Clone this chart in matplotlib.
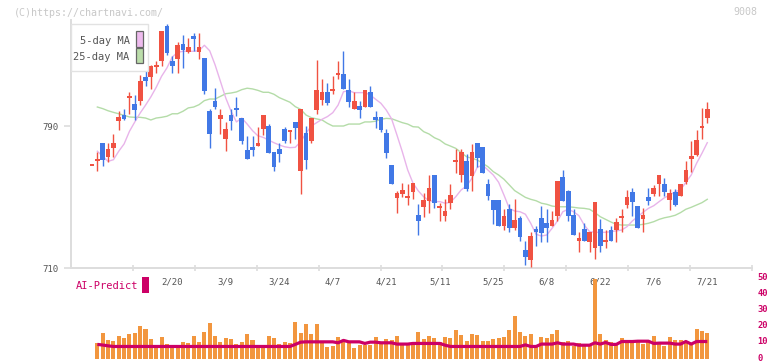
import numpy as np
import matplotlib
matplotlib.use("Agg")
import matplotlib.pyplot as plt
import matplotlib.transforms as mtransforms
from matplotlib.patches import Rectangle

# ---------------- data ----------------
opens = [768.0, 771.0, 780.4, 772.5, 777.6, 793.0, 796.2, 806.2, 802.4, 803.9,
         817.4, 817.6, 823.1, 826.8, 846.2, 826.8, 827.9, 836.2, 831.7, 840.5,
         831.7, 828.3, 798.6, 803.9, 794.1, 782.9, 796.2, 800.2, 794.5, 776.3,
         778.2, 779.0, 788.2, 790.0, 775.2, 777.1, 788.2, 787.2, 792.3, 764.8,
         785.9, 781.6, 799.0, 804.7, 809.0, 810.3, 819.3, 819.3, 810.3, 799.6,
         801.3, 800.9, 809.0, 794.9, 794.9, 786.2, 768.0, 749.6, 751.7, 750.0,
         753.0, 739.9, 744.5, 747.8, 762.4, 744.5, 739.3, 746.5, 770.3, 762.4,
         770.3, 762.0, 780.3, 778.2, 757.3, 748.3, 748.3, 733.8, 743.2, 732.7,
         738.0, 720.2, 714.5, 732.0, 738.0, 735.5, 733.8, 739.5, 761.4, 753.4,
         739.9, 725.4, 732.0, 724.8, 721.4, 732.0, 724.8, 731.4, 731.4, 738.9,
         745.5, 753.0, 744.9, 737.6, 749.8, 751.7, 757.3, 757.3, 748.3, 753.0,
         750.7, 758.6, 771.3, 773.7, 789.1, 794.7]
highs = [768.0, 775.4, 780.4, 780.4, 785.5, 798.3, 799.6, 809.2, 807.3, 818.9,
         821.4, 824.5, 826.6, 843.4, 847.5, 829.6, 837.2, 841.5, 839.6, 842.4,
         842.4, 828.3, 799.8, 811.4, 799.8, 792.3, 799.6, 806.3, 794.5, 784.2,
         784.2, 789.4, 796.2, 791.1, 775.2, 780.3, 789.3, 787.2, 792.3, 799.6,
         790.0, 794.7, 827.2, 816.5, 814.4, 818.2, 826.6, 832.3, 816.5, 809.3,
         804.1, 810.3, 812.5, 798.5, 794.9, 788.2, 768.0, 753.6, 757.7, 757.3,
         757.7, 746.1, 752.1, 762.4, 762.4, 746.5, 748.7, 757.3, 776.9, 776.9,
         774.2, 779.7, 780.3, 778.2, 760.2, 748.3, 748.3, 743.2, 746.1, 748.7,
         739.3, 725.4, 730.5, 733.8, 744.9, 743.1, 742.1, 759.0, 765.2, 754.0,
         743.2, 730.5, 735.2, 730.5, 747.0, 737.4, 731.4, 733.8, 738.0, 743.2,
         754.0, 755.3, 744.9, 744.0, 754.9, 756.8, 762.4, 760.7, 754.4, 754.4,
         757.3, 770.5, 781.7, 787.8, 800.0, 803.7]
lows = [768.0, 764.8, 767.6, 770.0, 772.8, 787.9, 793.5, 796.8, 793.2, 802.0,
        812.4, 811.0, 819.9, 824.0, 830.2, 819.9, 819.9, 822.7, 831.1, 832.1,
        827.9, 808.0, 777.6, 799.8, 785.5, 776.1, 787.9, 795.5, 779.9, 771.6,
        772.9, 778.6, 784.9, 775.0, 764.8, 769.9, 780.3, 780.3, 782.7, 751.7,
        765.8, 780.3, 796.8, 801.8, 801.8, 808.0, 816.5, 810.9, 800.9, 799.6,
        794.7, 800.9, 800.9, 789.1, 786.5, 771.8, 757.3, 740.8, 749.8, 745.5,
        748.7, 728.6, 738.9, 740.8, 744.0, 736.7, 736.7, 743.1, 763.7, 758.6,
        753.6, 753.6, 767.1, 763.7, 748.3, 734.6, 733.8, 731.4, 730.5, 731.4,
        725.4, 711.7, 710.7, 722.6, 724.8, 724.8, 733.8, 736.7, 747.8, 736.7,
        728.6, 718.9, 725.4, 718.9, 714.9, 718.9, 721.1, 725.4, 724.8, 730.5,
        744.0, 739.5, 732.7, 730.5, 745.5, 750.7, 750.7, 750.7, 742.7, 745.1,
        750.7, 757.2, 764.3, 773.1, 782.5, 791.9]
closes = [768.0, 771.0, 771.0, 777.1, 780.4, 794.9, 794.1, 806.2, 799.2, 815.2,
          815.2, 824.0, 824.4, 843.4, 831.1, 824.0, 835.5, 833.0, 834.5, 839.2,
          834.5, 809.9, 785.5, 800.5, 796.4, 788.3, 793.0, 799.0, 781.7, 771.6,
          776.7, 780.4, 796.2, 775.0, 767.1, 774.1, 781.7, 787.2, 789.1, 799.6,
          770.9, 794.7, 810.3, 809.0, 803.1, 810.3, 819.3, 810.9, 803.7, 804.1,
          799.0, 810.3, 800.9, 793.4, 787.8, 775.0, 757.3, 752.1, 754.0, 750.0,
          757.7, 736.5, 748.3, 754.9, 746.8, 744.5, 742.1, 751.1, 770.3, 775.2,
          754.5, 775.2, 771.8, 763.7, 750.7, 742.7, 733.8, 739.3, 732.7, 737.1,
          727.6, 716.4, 728.0, 730.5, 729.9, 732.7, 737.1, 759.0, 747.8, 739.5,
          728.6, 726.7, 725.4, 730.5, 747.0, 722.6, 725.8, 725.4, 735.8, 738.9,
          749.8, 747.0, 732.7, 739.9, 747.9, 754.9, 762.4, 753.0, 752.4, 745.5,
          757.3, 765.2, 773.1, 782.1, 790.0, 799.6]

nan = float("nan")
ma5 = [nan, 775.8, 772.9, 770.1, 771.0, 775.8, 779.9, 787.0, 792.3, 797.3,
       801.7, 806.4, 811.8, 818.0, 822.7, 828.9, 831.5, 832.1, 832.1, 832.1,
       832.4, 835.5, 832.4, 824.5, 815.2, 805.8, 798.3, 792.3, 794.5, 791.1,
       787.4, 784.5, 783.6, 782.1, 780.6, 779.3, 778.3, 777.8, 778.0, 781.2,
       785.9, 790.0, 791.9, 793.8, 795.3, 797.5, 801.8, 809.3, 809.9, 808.8,
       808.8, 808.8, 807.5, 805.1, 802.8, 799.0, 794.0, 784.9, 775.5, 765.3,
       757.8, 753.4, 750.1, 748.0, 747.4, 747.4, 746.5, 747.0, 750.2, 754.0,
       756.2, 760.5, 766.7, 768.0, 765.2, 762.4, 758.3, 751.1, 743.6, 742.1,
       741.7, 740.3, 735.2, 729.0, 728.0, 728.6, 732.4, 736.5, 741.7, 743.1,
       741.7, 739.5, 734.2, 730.5, 730.1, 730.1, 730.1, 730.5, 730.9, 731.4,
       733.3, 736.5, 738.9, 741.4, 743.6, 745.1, 747.4, 749.6, 751.1, 753.0,
       754.0, 758.3, 762.4, 769.0, 774.6, 780.6]
ma25 = [nan, 800.7, 799.8, 798.6, 797.7, 796.9, 796.0, 795.1, 794.9, 794.9,
        794.5, 793.4, 794.5, 794.9, 795.5, 796.9, 796.9, 798.3, 800.2, 800.7,
        802.0, 804.3, 805.2, 805.2, 806.7, 808.2, 808.6, 809.2, 810.5, 811.3,
        810.9, 810.1, 809.0, 809.0, 807.9, 806.0, 804.7, 803.4, 800.9, 799.4,
        796.2, 794.7, 794.0, 793.4, 791.5, 790.0, 790.0, 790.0, 791.1, 791.1,
        791.1, 792.3, 792.3, 792.7, 793.8, 794.3, 794.1, 793.0, 791.9, 791.1,
        789.6, 789.4, 786.8, 785.5, 783.4, 782.1, 779.9, 778.7, 777.4, 775.0,
        772.7, 771.8, 770.9, 769.0, 767.1, 764.3, 762.4, 760.0, 756.8, 753.6,
        751.7, 749.8, 748.7, 747.9, 746.5, 745.9, 744.9, 744.5, 744.5, 744.5,
        744.2, 743.8, 743.6, 743.1, 741.2, 738.9, 737.4, 735.9, 734.6, 734.2,
        734.2, 734.2, 734.2, 734.6, 735.2, 736.1, 737.4, 738.3, 738.9, 739.7,
        741.2, 743.1, 744.2, 745.5, 746.8, 748.7]

volume = [nan, 10.0, 16.3, 11.7, 11.3, 14.2, 12.9, 15.4, 16.3, 20.4,
          18.5, 12.3, 7.9, 13.5, 9.2, 7.9, 7.9, 10.4, 9.8, 14.2,
          10.6, 16.7, 22.5, 14.2, 10.4, 12.9, 12.3, 9.2, 10.4, 15.4,
          11.7, 7.9, 7.9, 14.2, 12.9, 9.2, 10.4, 9.8, 22.9, 16.0,
          21.9, 15.4, 21.7, 10.4, 7.3, 7.9, 13.5, 11.7, 9.8, 6.7,
          8.5, 8.5, 8.5, 13.5, 10.0, 12.3, 11.7, 14.2, 9.6, 9.6,
          9.6, 16.7, 12.3, 14.2, 12.9, 10.4, 13.5, 12.9, 17.9, 14.8,
          11.0, 15.4, 14.8, 11.0, 11.0, 12.3, 12.9, 13.5, 17.9, 26.7,
          16.7, 14.2, 15.4, 7.9, 13.5, 12.9, 15.4, 17.9, 10.4, 11.0,
          7.9, 9.8, 7.9, 7.9, 49.6, 15.4, 11.7, 10.4, 8.5, 12.9,
          10.4, 10.4, 10.4, 9.2, 10.4, 14.2, 10.4, 7.9, 13.5, 11.7,
          11.7, 9.8, 9.8, 18.5, 17.3, 16.0]
ai_predict = [nan, 9.0, 8.6, 8.1, 7.7, 7.7, 7.7, 7.7, 7.7, 7.7,
              7.7, 7.7, 7.7, 7.7, 7.7, 7.7, 7.7, 7.7, 7.7, 7.7,
              7.7, 7.7, 7.7, 7.7, 7.7, 7.7, 7.7, 7.7, 7.7, 7.7,
              7.7, 7.7, 7.7, 7.7, 7.7, 7.7, 7.7, 7.7, 9.0, 10.4,
              10.6, 10.6, 10.6, 10.6, 10.6, 10.6, 10.0, 11.5, 10.6, 10.6,
              10.6, 9.6, 10.4, 10.4, 10.0, 10.0, 10.0, 9.2, 9.2, 9.2,
              9.6, 9.6, 9.6, 9.6, 9.6, 9.6, 8.5, 7.7, 7.7, 7.7,
              7.7, 7.7, 7.7, 7.7, 7.7, 7.7, 7.7, 7.7, 7.7, 7.7,
              7.7, 8.7, 7.7, 7.7, 9.2, 9.2, 9.2, 10.0, 9.2, 9.2,
              9.2, 8.5, 8.5, 8.5, 10.0, 9.2, 10.2, 9.0, 9.0, 10.8,
              10.8, 10.8, 11.0, 11.0, 11.0, 9.6, 9.8, 9.8, 9.8, 9.2,
              9.2, 10.8, 9.2, 10.8, 10.8, 10.8]

date_labels = ['2/20', '3/9', '3/24', '4/7', '4/21', '5/11', '5/25', '6/8', '6/22', '7/6', '7/21']
date_index = [15, 25, 35, 45, 55, 65, 75, 85, 95, 105, 115]
price_ticks = [710, 790]
vol_ticks = [0, 10, 20, 30, 40, 50]

# ---------------- style ----------------
W, H = 772, 361
RED = '#f05242'
BLUE = '#4178e6'
PINK = '#e8b4ea'
GREEN = '#b4dca8'
ORANGE = '#f2963e'
MAGENTA = '#cc0066'
AXC = '#dddddd'
TXT = '#555555'
MONO = 'DejaVu Sans Mono'

def fx(px):
    return px / W

def fy(py):
    return 1 - py / H

fig = plt.figure(figsize=(W / 100, H / 100), dpi=100)
fig.patch.set_facecolor('white')

x0, x1 = -3.925, 123.36
n = len(closes)
idx = np.arange(n)
o = np.array(opens); h = np.array(highs); l = np.array(lows); c = np.array(closes)

# main price axes
ax = fig.add_axes([fx(71), fy(268), fx(752) - fx(71), fy(20) - fy(268)])
ax.set_xlim(x0, x1)
ax.set_ylim(710, 849.73)
for s in ['top', 'right']:
    ax.spines[s].set_visible(False)
for s in ['left', 'bottom']:
    ax.spines[s].set_color(AXC)
    ax.spines[s].set_linewidth(1.4)

ax.plot(idx, ma25, color=GREEN, lw=1.0, zorder=2)
ax.plot(idx, ma5, color=PINK, lw=1.0, zorder=2)

up = c >= o
cols = np.where(up, RED, BLUE)
ax.vlines(idx, l, h, colors=cols, lw=1.0, zorder=3)
bottoms = np.minimum(o, c)
heights = np.maximum(np.abs(c - o), 1.0)
bottoms = np.where(np.abs(c - o) < 1.0, (o + c) / 2 - 0.5, bottoms)
ax.bar(idx, heights, bottom=bottoms, width=0.88, color=cols, linewidth=0, zorder=4)

ax.set_yticks(price_ticks)
ax.set_yticklabels([str(t) for t in price_ticks], fontfamily=MONO, fontsize=6.5, color=TXT)
ax.tick_params(axis='y', direction='out', length=5, width=1.2, color=AXC, pad=4)
ticks = np.linspace(x0, x1, 12)[1:]
ax.set_xticks(ticks)
ax.set_xticklabels([])
ax.tick_params(axis='x', direction='inout', length=5, width=1.2, color=AXC)

date_tr = mtransforms.blended_transform_factory(ax.transData, fig.transFigure)
for i, lab in zip(date_index, date_labels):
    ax.text(i, fy(282), lab, transform=date_tr,
            ha='center', va='center', fontfamily=MONO, fontsize=6.5, color=TXT)

# volume axes
axv = fig.add_axes([fx(71), fy(358.8), fx(752) - fx(71), fy(271) - fy(358.8)])
axv.set_xlim(x0, x1)
axv.set_ylim(0, (358.8 - 271) / 1.6)
axv.patch.set_alpha(0)
for s in axv.spines.values():
    s.set_visible(False)
axv.bar(idx, volume, width=0.75, color=ORANGE, linewidth=0, zorder=2)
axv.plot(idx, ai_predict, color=MAGENTA, lw=2.3, zorder=3, solid_capstyle='butt')
axv.set_xticks([])
axv.yaxis.tick_right()
axv.set_yticks(vol_ticks)
axv.set_yticklabels([str(t) for t in vol_ticks], fontfamily=MONO, fontsize=6.3,
                    color=MAGENTA, fontweight='bold')
axv.tick_params(axis='y', length=0, pad=4)
shift = mtransforms.ScaledTranslation(0, 1.8 / 100, fig.dpi_scale_trans)
for lab in axv.get_yticklabels():
    lab.set_transform(lab.get_transform() + shift)

# header texts
fig.text(fx(14), fy(12.5), '(C)https://chartnavi.com/', ha='left', va='center',
         fontfamily=MONO, fontsize=7.2, color='#c8c8c8')
fig.text(fx(757), fy(12), '9008', ha='right', va='center',
         fontfamily=MONO, fontsize=7.2, color='#c8c8c8')

# legend box
fig.add_artist(Rectangle((fx(70.7), fy(71.3)), fx(148.3) - fx(70.7), fy(24.3) - fy(71.3),
                         transform=fig.transFigure, facecolor='white', edgecolor='#e2e2e2',
                         lw=1.0, zorder=10))
fig.text(fx(129.5), fy(40.5), '5-day MA', ha='right', va='center', fontfamily=MONO,
         fontsize=7.5, color=TXT, zorder=11)
fig.text(fx(129.5), fy(57), '25-day MA', ha='right', va='center', fontfamily=MONO,
         fontsize=7.5, color=TXT, zorder=11)
fig.add_artist(Rectangle((fx(136.3), fy(46.5)), fx(142.7) - fx(136.3), fy(31.2) - fy(46.5),
                         transform=fig.transFigure, facecolor='#eebbee', edgecolor='#666666',
                         lw=0.9, zorder=11))
fig.add_artist(Rectangle((fx(136.3), fy(63.2)), fx(142.7) - fx(136.3), fy(48.5) - fy(63.2),
                         transform=fig.transFigure, facecolor='#bbddaa', edgecolor='#666666',
                         lw=0.9, zorder=11))

# AI-Predict label
fig.text(fx(76), fy(286), 'AI-Predict', ha='left', va='center', fontfamily=MONO,
         fontsize=7.5, color=MAGENTA)
fig.add_artist(Rectangle((fx(142.2), fy(292.7)), fx(148.7) - fx(142.2), fy(276.7) - fy(292.7),
                         transform=fig.transFigure, facecolor=MAGENTA, edgecolor='none'))

fig.savefig('out.png', dpi=100, facecolor='white')
